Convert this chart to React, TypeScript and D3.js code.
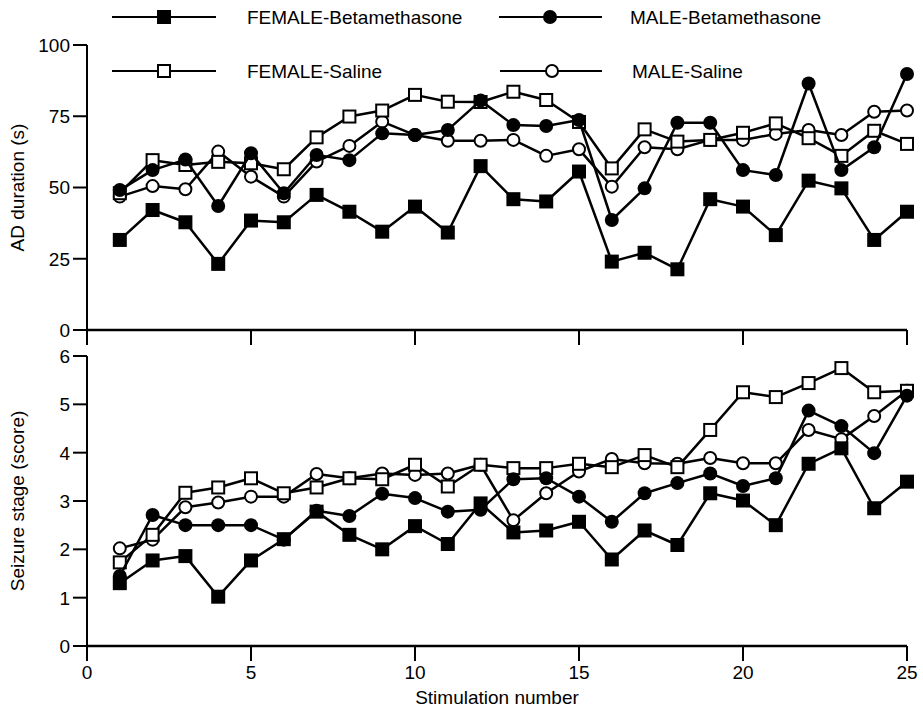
import React from "react";
import * as d3 from "d3";

const stimulations = d3.range(1, 26);

// Top panel: AD duration (s)
const adFemaleBeta = [31.6, 42.1, 37.8, 23.2, 38.4, 37.8, 47.4, 41.5, 34.5, 43.3, 34.2, 57.5, 45.9, 45.1, 55.6, 24.0, 27.1, 21.3, 45.9, 43.3, 33.3, 52.4, 49.7, 31.6, 41.5];
const adMaleBeta = [49.1, 56.1, 59.8, 43.5, 62.0, 48.0, 61.4, 59.6, 69.0, 68.4, 70.2, 80.5, 71.9, 71.6, 73.7, 38.6, 49.7, 72.7, 72.7, 56.1, 54.4, 86.5, 56.1, 64.1, 89.8];
const adFemaleSal = [48.0, 59.6, 57.9, 59.0, 58.5, 56.4, 67.6, 74.9, 77.0, 82.5, 80.1, 80.0, 83.6, 80.7, 73.0, 56.7, 70.4, 66.1, 66.7, 69.2, 72.5, 67.3, 61.1, 69.9, 65.3];
const adMaleSal = [46.8, 50.5, 49.4, 62.6, 53.8, 46.8, 59.1, 64.6, 73.1, 68.4, 66.4, 66.4, 66.7, 61.1, 63.4, 50.3, 64.1, 63.4, 66.7, 66.7, 68.8, 70.2, 68.4, 76.6, 77.0];

// Bottom panel: Seizure stage (score)
const szFemaleBeta = [1.30, 1.77, 1.86, 1.02, 1.77, 2.21, 2.78, 2.30, 2.00, 2.48, 2.11, 2.95, 2.35, 2.39, 2.57, 1.79, 2.39, 2.09, 3.16, 3.01, 2.50, 3.77, 4.09, 2.85, 3.40];
const szMaleBeta = [1.45, 2.71, 2.50, 2.50, 2.50, 2.20, 2.80, 2.69, 3.15, 3.06, 2.78, 2.82, 3.45, 3.47, 3.09, 2.57, 3.16, 3.37, 3.57, 3.31, 3.47, 4.87, 4.55, 3.99, 5.18];
const szFemaleSal = [1.73, 2.30, 3.17, 3.28, 3.47, 3.16, 3.28, 3.47, 3.45, 3.75, 3.30, 3.75, 3.68, 3.68, 3.77, 3.70, 3.95, 3.70, 4.47, 5.25, 5.15, 5.44, 5.75, 5.25, 5.28];
const szMaleSal = [2.02, 2.20, 2.87, 2.97, 3.09, 3.09, 3.56, 3.47, 3.57, 3.54, 3.57, 3.75, 2.60, 3.16, 3.61, 3.87, 3.78, 3.77, 3.89, 3.78, 3.78, 4.47, 4.28, 4.76, 5.28];

const seriesNames = ["FEMALE-Betamethasone", "MALE-Betamethasone", "FEMALE-Saline", "MALE-Saline"];
const xTicks = [0, 5, 10, 15, 20, 25];
const adTicks = [0, 25, 50, 75, 100];
const szTicks = [0, 1, 2, 3, 4, 5, 6];

type Kind = "fsq" | "fci" | "osq" | "oci";
const kinds: Kind[] = ["fsq", "fci", "osq", "oci"];

const FONT = "'Liberation Sans', Arial, sans-serif";
const FS = 19;

function Marker({ kind, x, y }: { kind: Kind; x: number; y: number }) {
  const s = 14;
  const r = 7;
  if (kind === "fsq") return <rect x={x - s / 2} y={y - s / 2} width={s} height={s} fill="#000" />;
  if (kind === "osq")
    return <rect x={x - s / 2 + 1} y={y - s / 2 + 1} width={s - 2} height={s - 2} fill="#fff" stroke="#000" strokeWidth={2} />;
  if (kind === "fci") return <circle cx={x} cy={y} r={r} fill="#000" />;
  return <circle cx={x} cy={y} r={r - 1} fill="#fff" stroke="#000" strokeWidth={2} />;
}

export default function App() {
  const W = 923;
  const H = 716;
  const x = d3.scaleLinear().domain([0, 25]).range([87, 907]);
  const yTop = d3.scaleLinear().domain([0, 100]).range([330, 45]);
  const yBot = d3.scaleLinear().domain([0, 6]).range([646, 356]);

  const topData = [adFemaleBeta, adMaleBeta, adFemaleSal, adMaleSal];
  const botData = [szFemaleBeta, szMaleBeta, szFemaleSal, szMaleSal];
  // drawing order: open markers first then filled on top? reference shows mixture
  const order = [3, 2, 0, 1];

  const renderPanel = (data: number[][], y: d3.ScaleLinear<number, number>) =>
    order.map((si) => {
      const pts = stimulations.map((s, i) => [x(s), y(data[si][i])] as [number, number]);
      const line = d3.line()(pts) || "";
      return (
        <g key={si}>
          <path d={line} fill="none" stroke="#000" strokeWidth={2.5} strokeLinejoin="round" />
          {pts.map((p, i) => (
            <Marker key={i} kind={kinds[si]} x={p[0]} y={p[1]} />
          ))}
        </g>
      );
    });

  const axisX0 = x(0);
  const tickLen = 15;

  const legend = [
    { si: 0, lx1: 112, lx2: 216, mx: 164, tx: 247, y: 17 },
    { si: 1, lx1: 499, lx2: 602, mx: 550, tx: 630, y: 17 },
    { si: 2, lx1: 112, lx2: 216, mx: 164, tx: 247, y: 71 },
    { si: 3, lx1: 500, lx2: 602, mx: 552, tx: 632, y: 71 },
  ];

  return (
    <svg width={W} height={H} style={{ position: "absolute", left: 0, top: 0, background: "#fff" }} fontFamily={FONT}>
      <rect x={0} y={0} width={W} height={H} fill="#fff" />
      {/* Top panel axes */}
      <line x1={axisX0} y1={yTop(100)} x2={axisX0} y2={yTop(0) + tickLen} stroke="#000" strokeWidth={2} />
      <line x1={axisX0} y1={yTop(0)} x2={x(25)} y2={yTop(0)} stroke="#000" strokeWidth={2.5} />
      {xTicks.slice(1).map((t) => (
        <line key={t} x1={x(t)} x2={x(t)} y1={yTop(0)} y2={yTop(0) + tickLen} stroke="#000" strokeWidth={2} />
      ))}
      {adTicks.map((t) => (
        <g key={t}>
          <line x1={axisX0 - 14} x2={axisX0} y1={yTop(t)} y2={yTop(t)} stroke="#000" strokeWidth={2} />
          <text x={axisX0 - 17} y={yTop(t)} dy="0.36em" textAnchor="end" fontSize={FS}>
            {t}
          </text>
        </g>
      ))}
      <text transform={`translate(24,${(yTop(0) + yTop(100)) / 2}) rotate(-90)`} textAnchor="middle" fontSize={FS}>
        AD duration (s)
      </text>

      {/* Bottom panel axes */}
      <line x1={axisX0} y1={yBot(6)} x2={axisX0} y2={yBot(0) + tickLen} stroke="#000" strokeWidth={2} />
      <line x1={axisX0} y1={yBot(0)} x2={x(25)} y2={yBot(0)} stroke="#000" strokeWidth={2.5} />
      {xTicks.map((t) => (
        <g key={t}>
          <line x1={x(t)} x2={x(t)} y1={yBot(0)} y2={yBot(0) + tickLen} stroke="#000" strokeWidth={2} />
          <text x={x(t)} y={yBot(0) + 33} textAnchor="middle" fontSize={FS}>
            {t}
          </text>
        </g>
      ))}
      {szTicks.map((t) => (
        <g key={t}>
          <line x1={axisX0 - 14} x2={axisX0} y1={yBot(t)} y2={yBot(t)} stroke="#000" strokeWidth={2} />
          <text x={axisX0 - 17} y={yBot(t)} dy="0.36em" textAnchor="end" fontSize={FS}>
            {t}
          </text>
        </g>
      ))}
      <text transform={`translate(24,${(yBot(0) + yBot(6)) / 2}) rotate(-90)`} textAnchor="middle" fontSize={FS}>
        Seizure stage (score)
      </text>
      <text x={(x(0) + x(25)) / 2} y={704} textAnchor="middle" fontSize={FS}>
        Stimulation number
      </text>

      {renderPanel(topData, yTop)}
      {renderPanel(botData, yBot)}

      {/* Legend */}
      {legend.map((l) => (
        <g key={l.si}>
          <line x1={l.lx1} x2={l.lx2} y1={l.y} y2={l.y} stroke="#000" strokeWidth={2} />
          <Marker kind={kinds[l.si]} x={l.mx} y={l.y} />
          <text x={l.tx} y={l.y} dy="0.36em" fontSize={FS}>
            {seriesNames[l.si]}
          </text>
        </g>
      ))}
    </svg>
  );
}
